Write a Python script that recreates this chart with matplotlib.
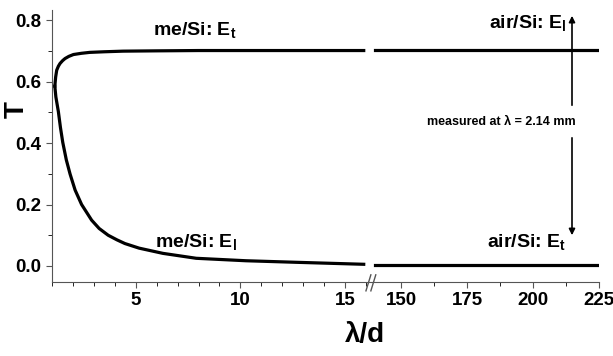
import matplotlib
matplotlib.use('Agg')
import matplotlib.pyplot as plt
from matplotlib.ticker import MultipleLocator

# values
x_me_t = [1.13, 1.17, 1.22, 1.30, 1.38, 1.50, 1.62, 1.80, 2.02, 2.4, 2.8, 3.5, 4.4, 6.0, 8.0, 10.0, 13.0, 15.9]
t_me_t = [0.585, 0.615, 0.637, 0.650, 0.659, 0.668, 0.675, 0.682, 0.688, 0.692, 0.695, 0.697, 0.699, 0.700, 0.701, 0.701, 0.701, 0.701]
x_me_l = [1.13, 1.18, 1.30, 1.40, 1.51, 1.68, 1.86, 2.10, 2.41, 2.89, 3.25, 3.68, 4.1, 4.48, 5.16, 6.30, 7.89, 10.27, 12.65, 15.9]
t_me_l = [0.585, 0.55, 0.502, 0.45, 0.402, 0.345, 0.299, 0.247, 0.200, 0.149, 0.122, 0.100, 0.085, 0.073, 0.058, 0.041, 0.025, 0.017, 0.012, 0.0055]
x_air = [140.2, 225]
t_air_l = [0.703, 0.703]
t_air_t = [0.002, 0.002]

left_ticks = [5, 10, 15]
right_ticks = [150, 175, 200, 225]
y_ticks = [0.0, 0.2, 0.4, 0.6, 0.8]

plt.rcParams['font.family'] = ['Liberation Sans', 'DejaVu Sans']
plt.rcParams['font.weight'] = 'bold'
plt.rcParams['mathtext.default'] = 'regular'

fig = plt.figure(figsize=(6.13, 3.56), dpi=100)
ax1 = fig.add_axes([0.085, 0.208, 0.522, 0.764])
ax2 = fig.add_axes([0.607, 0.208, 0.370, 0.764])

spine_col = '#555555'

for ax in (ax1, ax2):
    ax.set_ylim(-0.052, 0.833)
    ax.spines['top'].set_visible(False)
    ax.spines['right'].set_visible(False)
    ax.spines['bottom'].set_color(spine_col)
    ax.spines['left'].set_color(spine_col)
    ax.tick_params(direction='out', colors=spine_col, labelcolor='black', labelsize=13.5)
    ax.tick_params(which='major', length=4)
    ax.tick_params(which='minor', length=3)

ax1.plot(x_me_t, t_me_t, color='black', lw=2.3, solid_joinstyle='round')
ax1.plot(x_me_l, t_me_l, color='black', lw=2.3, solid_joinstyle='round')
ax1.set_xlim(1, 16.3)
ax1.xaxis.set_minor_locator(MultipleLocator(1))
ax1.yaxis.set_minor_locator(MultipleLocator(0.1))
ax1.set_yticks(y_ticks)
ax1.set_yticklabels(['%.1f' % v for v in y_ticks], fontweight='bold')
ax1.set_xticks(left_ticks)
ax1.set_xticklabels([str(v) for v in left_ticks], fontweight='bold')

ax2.plot(x_air, t_air_l, color='black', lw=2.3)
ax2.plot(x_air, t_air_t, color='black', lw=2.3)
ax2.set_xlim(139, 225)
ax2.set_xticks(right_ticks)
ax2.set_xticklabels([str(v) for v in right_ticks], fontweight='bold')
ax2.xaxis.set_minor_locator(MultipleLocator(12.5))
ax2.spines['left'].set_visible(False)
ax2.tick_params(axis='y', which='both', left=False, labelleft=False)

# curve labels
ax1.text(7.8, 0.751, 'me/Si: E$_t$', fontsize=14, fontweight='bold', ha='center', va='baseline')
ax1.text(7.86, 0.062, 'me/Si: E$_l$', fontsize=14, fontweight='bold', ha='center', va='baseline')
ax2.text(212.6, 0.774, 'air/Si: E$_l$', fontsize=14, fontweight='bold', ha='right', va='baseline')
ax2.text(212.6, 0.062, 'air/Si: E$_t$', fontsize=14, fontweight='bold', ha='right', va='baseline')

# double arrow with note
ax2.text(188, 0.47, 'measured at λ = 2.14 mm', fontsize=9, fontweight='bold',
         ha='center', va='center')
ax2.annotate('', xy=(214.8, 0.823), xytext=(214.8, 0.514),
             arrowprops=dict(arrowstyle='-|>', color='black', lw=1.2, mutation_scale=9))
ax2.annotate('', xy=(214.8, 0.091), xytext=(214.8, 0.426),
             arrowprops=dict(arrowstyle='-|>', color='black', lw=1.2, mutation_scale=9))

fig.text(17 / 613, 1 - 110 / 356, 'T', fontsize=20, fontweight='bold', rotation=90,
         ha='center', va='center')
fig.text(0.595, 0.06, 'λ/d', fontsize=20, fontweight='bold', ha='center', va='center')

# axis break marks
y0 = 0.208
for dx in (-0.006, 0.002):
    fig.add_artist(plt.Line2D([0.603 + dx, 0.611 + dx], [y0 - 0.025, y0 + 0.02],
                              color=spine_col, lw=1.0))

fig.savefig('out.png', dpi=100)
